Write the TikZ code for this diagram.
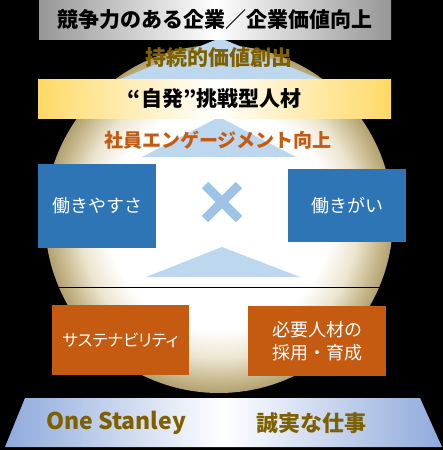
\documentclass[tikz,border=0pt]{standalone}
\usepackage{fontspec}
\setmainfont{Noto Sans CJK JP}
\usetikzlibrary{shapes.misc}

\definecolor{pillarblue}{RGB}{46,117,182}
\definecolor{pillarorange}{RGB}{197,90,17}
\definecolor{arrowblue}{RGB}{189,215,238}
\definecolor{crossblue}{RGB}{157,195,230}
\definecolor{olivetext}{RGB}{127,96,0}
\definecolor{spherelight}{RGB}{236,229,208}
\definecolor{spheretan}{RGB}{196,181,136}
\definecolor{spheredark}{RGB}{178,160,112}
\definecolor{bandyellow}{RGB}{255,217,102}
\definecolor{goalgray}{RGB}{150,150,150}
\definecolor{baseblue}{RGB}{143,170,220}

% circle edge sits at 25bp of the shading
\pgfdeclareradialshading{sphereglow}{\pgfpoint{0bp}{0bp}}{color(0bp)=(white); color(16bp)=(white); color(20bp)=(spherelight); color(23.5bp)=(spheretan); color(25bp)=(spheredark); color(50bp)=(spheredark)}

\tikzset{
  pillar/.style={inner sep=0pt, text=white, align=center},
  banner/.style={inner sep=0pt, minimum height=39pt},
  bigbold/.style={font={\fontsize{21}{25}\selectfont\bfseries}}
}

\begin{document}
\begin{tikzpicture}[x=1pt, y=-1pt]
    \fill[black] (0,0) rectangle (443,450);
    \useasboundingbox (0,0) rectangle (443,450);

    % sphere and the light arrows
    \shade[shading=sphereglow] (219,219) circle (174);
    \fill[arrowblue] (220,38) -- (118,80) -- (322,80) -- cycle;
    \fill[arrowblue] (219,117) -- (142,157) -- (296,157) -- cycle;
    \fill[arrowblue] (222,247) -- (146,277) -- (300,277) -- cycle;
    \draw[black, line width=1pt] (40,287) -- (400,287);

    % top banner and the yellow band
    \node[banner, bigbold, minimum width=352pt, left color=goalgray, right color=goalgray, middle color=white] (goal) at (215,19.5)
        {競争力のある企業／企業価値向上};
    \node[bigbold, text=olivetext] (value) at (219,58) {持続的価値創出};
    \node[banner, bigbold, minimum width=353pt, left color=bandyellow, right color=bandyellow, middle color=white] (talent) at (214.5,98.5)
        {“自発”挑戦型人材};
    \node[font={\fontsize{19}{23}\selectfont\bfseries}, text=pillarorange] (engage) at (218,140) {社員エンゲージメント向上};

    % blue pillars
    \node[pillar, fill=pillarblue, minimum width=118pt, minimum height=84pt, font={\fontsize{18}{22}\selectfont}] (ease) at (97,206)
        {働きやすさ};
    \node[pillar, fill=pillarblue, minimum width=118pt, minimum height=73pt, font={\fontsize{18}{22}\selectfont}] (worth) at (347,205.5)
        {働きがい};
    \node[cross out, draw=crossblue, line width=9pt, minimum size=25pt] (times) at (222,202) {};

    % orange pillars
    \node[pillar, fill=pillarorange, minimum width=137pt, minimum height=70pt, font={\fontsize{16.5}{22}\selectfont\addfontfeatures{RawFeature=+palt}}] (sustain) at (120.5,340)
        {サステナビリティ};
    \node[pillar, fill=pillarorange, minimum width=138pt, minimum height=70pt, font={\fontsize{18}{23}\selectfont}] (hire) at (317,341)
        {必要人材の\\採用・育成};

    % base
    \shade[left color=baseblue, right color=baseblue, middle color=white]
        (25,398) -- (420,398) -- (442,447) -- (5,447) -- cycle;
    \node[font={\fontsize{23}{27}\selectfont\bfseries}, text=olivetext] (one) at (116,423) {One Stanley};
    \node[font={\fontsize{22}{26}\selectfont\bfseries}, text=olivetext] (honest) at (311,423) {誠実な仕事};
\end{tikzpicture}
\end{document}
